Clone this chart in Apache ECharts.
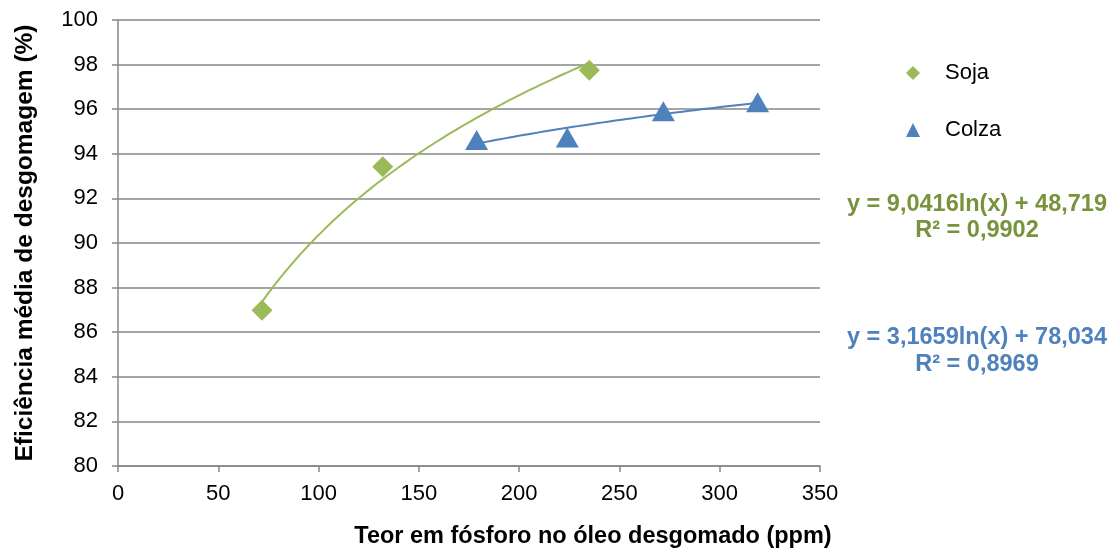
<!DOCTYPE html>
<html>
<head>
<meta charset="utf-8">
<script src="https://cdn.jsdelivr.net/npm/echarts@6/dist/echarts.min.js"></script>
<style>
  html, body { margin: 0; padding: 0; background: #fff; }
  #chart { width: 1117px; height: 552px; }
</style>
</head>
<body>
<div id="chart"></div>
<script>
// Phosphorus content in degummed oil (ppm) vs. mean degumming efficiency (%)
const sojaX = [71.8, 132.0, 235.0];
const sojaY = [86.98, 93.42, 97.75];
const colzaX = [178.8, 224.0, 271.9, 318.9];
const colzaY = [94.62, 94.73, 95.91, 96.31];

// Logarithmic trendlines: y = a*ln(x) + b
const sojaFit = { a: 9.0416, b: 48.719, r2: '0,9902', label: 'y = 9,0416ln(x) + 48,719' };
const colzaFit = { a: 3.1659, b: 78.034, r2: '0,8969', label: 'y = 3,1659ln(x) + 78,034' };

const xTicks = [0, 50, 100, 150, 200, 250, 300, 350];
const yTicks = [80, 82, 84, 86, 88, 90, 92, 94, 96, 98, 100];

const GREEN = '#9BBB59';
const GREEN_TXT = '#77933C';
const BLUE = '#4F81BD';
const BLUE_TXT = '#4F81BD';
const GRID = '#878787';

function trend(fit, xs) {
  const lo = Math.min(...xs), hi = Math.max(...xs);
  const pts = [];
  const n = 60;
  for (let i = 0; i <= n; i++) {
    const x = lo + (hi - lo) * i / n;
    pts.push([x, fit.a * Math.log(x) + fit.b]);
  }
  return pts;
}

const chart = echarts.init(document.getElementById('chart'), null, { renderer: 'canvas' });
const FAM = "'Liberation Sans', Arial, sans-serif";
const BOLD = "bold 23.5px 'Liberation Sans', Arial, sans-serif";

chart.setOption({
  animation: false,
  textStyle: { fontFamily: FAM },
  grid: { left: 118, right: 297, top: 20, bottom: 86, containLabel: false, outerBoundsMode: 'none' },
  xAxis: {
    type: 'value', min: xTicks[0], max: xTicks[xTicks.length - 1], interval: 50,
    axisLine: { show: true, lineStyle: { color: GRID, width: 1.5 } },
    axisTick: { show: true, length: 6, lineStyle: { color: GRID, width: 1.5 } },
    axisLabel: { color: '#000', fontSize: 22, margin: 17, fontFamily: FAM },
    splitLine: { show: false }
  },
  yAxis: {
    type: 'value', min: yTicks[0], max: yTicks[yTicks.length - 1], interval: 2,
    name: 'Eficiência média de desgomagem (%)',
    nameLocation: 'middle', nameGap: 80, nameRotate: 90,
    nameTextStyle: { color: '#000', fontSize: 24.5, fontWeight: 'bold', fontFamily: FAM },
    axisLine: { show: true, lineStyle: { color: GRID, width: 1.5 } },
    axisTick: { show: true, length: 6, lineStyle: { color: GRID, width: 1.5 } },
    axisLabel: { color: '#000', fontSize: 22, margin: 20, fontFamily: FAM },
    splitLine: { show: true, lineStyle: { color: GRID, width: 1.5 } }
  },
  legend: {
    orient: 'vertical', left: 901, top: 57, itemGap: 35,
    itemWidth: 14, itemHeight: 14,
    textStyle: { color: '#000', fontSize: 22, fontFamily: FAM, padding: [0, 0, 0, 20] },
    data: [
      { name: 'Soja', icon: 'diamond', itemStyle: { color: GREEN } },
      { name: 'Colza', icon: 'triangle', itemStyle: { color: BLUE } }
    ]
  },
  graphic: [
    { type: 'text', style: { text: 'Teor em fósforo no óleo desgomado (ppm)', x: 593, y: 537, textAlign: 'center', textVerticalAlign: 'middle', fill: '#000', font: BOLD } },
    { type: 'text', style: { text: sojaFit.label, x: 977, y: 205, textAlign: 'center', textVerticalAlign: 'middle', fill: GREEN_TXT, font: BOLD } },
    { type: 'text', style: { text: 'R² = ' + sojaFit.r2, x: 977, y: 231, textAlign: 'center', textVerticalAlign: 'middle', fill: GREEN_TXT, font: BOLD } },
    { type: 'text', style: { text: colzaFit.label, x: 977, y: 338, textAlign: 'center', textVerticalAlign: 'middle', fill: BLUE_TXT, font: BOLD } },
    { type: 'text', style: { text: 'R² = ' + colzaFit.r2, x: 977, y: 365, textAlign: 'center', textVerticalAlign: 'middle', fill: BLUE_TXT, font: BOLD } }
  ],
  series: [
    {
      name: 'Soja trend', type: 'line', data: trend(sojaFit, sojaX), showSymbol: false, smooth: false,
      lineStyle: { color: GREEN, width: 2 }, z: 2, silent: true
    },
    {
      name: 'Colza trend', type: 'line', data: trend(colzaFit, colzaX), showSymbol: false, smooth: false,
      lineStyle: { color: BLUE, width: 2 }, z: 2, silent: true
    },
    {
      name: 'Soja', type: 'scatter', symbol: 'diamond', symbolSize: 21,
      itemStyle: { color: GREEN, opacity: 1 },
      data: sojaX.map((x, i) => [x, sojaY[i]]), z: 3
    },
    {
      name: 'Colza', type: 'scatter', symbol: 'triangle', symbolSize: [23, 20],
      itemStyle: { color: BLUE, opacity: 1 },
      data: colzaX.map((x, i) => [x, colzaY[i]]), z: 3
    }
  ]
});
</script>
</body>
</html>
